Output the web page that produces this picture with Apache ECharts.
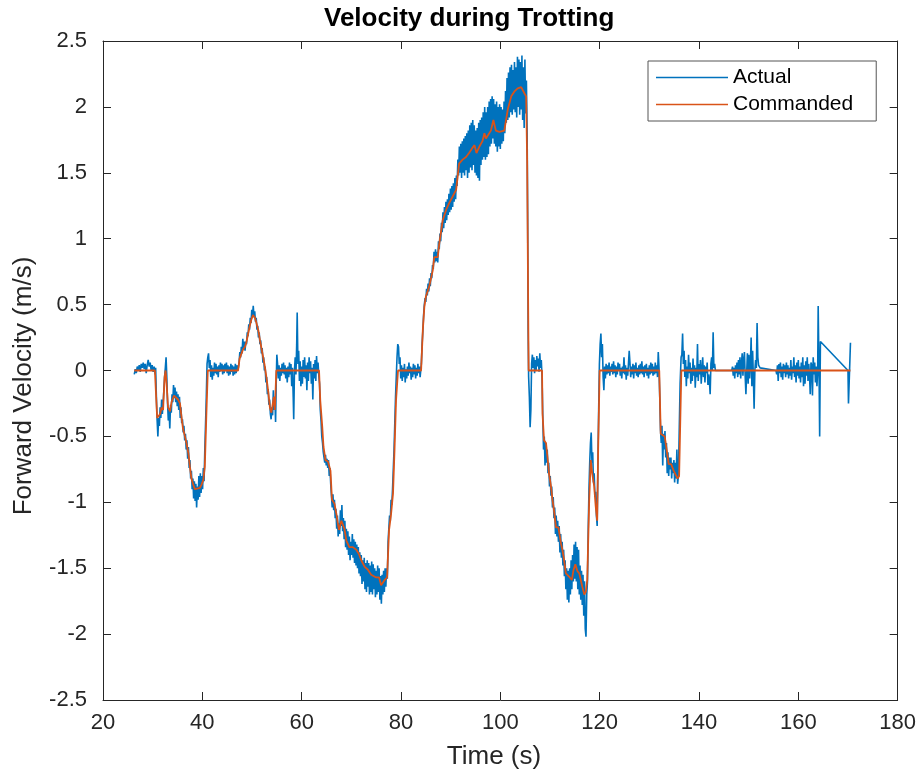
<!DOCTYPE html>
<html>
<head>
<meta charset="utf-8">
<script src="https://cdn.jsdelivr.net/npm/echarts@6/dist/echarts.min.js"></script>
<style>
html,body{margin:0;padding:0;background:#fff;}
#chart{width:919px;height:774px;}
</style>
</head>
<body>
<div id="chart"></div>
<script>
// ---- data ----
var chartTitle = 'Velocity during Trotting';
var xLabel = 'Time (s)';
var yLabel = 'Forward Velocity (m/s)';
var seriesNames = ['Actual', 'Commanded'];
var xTicks = [20, 40, 60, 80, 100, 120, 140, 160, 180];
var yTicks = [-2.5, -2, -1.5, -1, -0.5, 0, 0.5, 1, 1.5, 2, 2.5];

// Commanded velocity [time, value]
var commanded = [
[26.3,0],[30.45,0],[30.9,-0.36],[31.5,-0.33],[31.8,-0.28],[32.1,-0.3],[32.4,-0.05],[32.6,0],[32.8,-0.1],[33.1,-0.28],[33.5,-0.31],[33.8,-0.24],[34.3,-0.19],[34.7,-0.2],[35.1,-0.22],[35.5,-0.25],[35.8,-0.35],[36.1,-0.44],[36.5,-0.5],[36.8,-0.55],[37.2,-0.63],[37.5,-0.73],[37.8,-0.82],[38.2,-0.87],[38.5,-0.9],[38.8,-0.9],[39.5,-0.89],[39.8,-0.87],[40.2,-0.83],[40.5,-0.73],[40.8,-0.35],[41.1,0],
[47.2,0],[47.5,0.09],[48.2,0.16],[48.6,0.18],[48.9,0.22],[49.5,0.33],[49.9,0.39],[50.2,0.42],[50.6,0.4],[50.9,0.36],[51.3,0.3],[51.6,0.23],[52.0,0.15],[52.5,0.05],[52.9,-0.05],[53.3,-0.17],[53.6,-0.28],[53.9,-0.32],[54.2,-0.31],[54.4,-0.2],[54.6,-0.3],[54.8,-0.1],[54.9,0],
[63.5,0],[63.75,-0.23],[64.15,-0.43],[64.4,-0.58],[64.8,-0.68],[65.3,-0.69],[65.8,-0.76],[66.1,-0.98],[66.6,-1.01],[67.0,-1.09],[67.5,-1.21],[68.0,-1.14],[68.6,-1.2],[69.0,-1.29],[69.6,-1.34],[70.3,-1.34],[71.0,-1.36],[71.5,-1.39],[72.0,-1.44],[72.7,-1.49],[73.3,-1.51],[74.0,-1.55],[75.0,-1.57],[75.6,-1.57],[76.0,-1.63],[76.7,-1.59],[77.2,-1.57],[77.6,-1.21],[78.0,-1.09],[78.4,-0.93],[78.7,-0.6],[79.0,-0.23],[79.4,0],
[84.05,0],[84.4,0.31],[84.7,0.48],[85.0,0.56],[85.7,0.64],[86.4,0.76],[86.7,0.86],[87.4,0.86],[87.7,0.96],[88.4,1.14],[89.1,1.22],[89.7,1.27],[90.4,1.32],[91.1,1.37],[91.7,1.57],[92.4,1.6],[93.1,1.62],[93.7,1.65],[94.4,1.69],[94.8,1.71],[95.2,1.65],[95.8,1.7],[96.4,1.74],[96.8,1.8],[97.1,1.76],[97.5,1.77],[98.1,1.82],[98.6,1.9],[99.1,1.82],[99.8,1.81],[100.8,1.82],[101.5,1.98],[102.2,2.08],[102.9,2.12],[103.5,2.14],[104.2,2.15],[104.9,2.1],[105.2,2.08],[105.4,1.6],[105.7,0],
[108.4,0],[108.5,-0.33],[108.8,-0.53],[109.2,-0.55],[109.5,-0.66],[109.8,-0.78],[110.2,-0.88],[110.5,-0.98],[110.8,-1.06],[111.2,-1.19],[111.7,-1.19],[112.2,-1.31],[112.5,-1.36],[112.8,-1.43],[113.2,-1.54],[113.5,-1.55],[114.0,-1.57],[114.4,-1.59],[114.7,-1.52],[115.1,-1.47],[115.5,-1.52],[115.9,-1.54],[116.2,-1.59],[116.5,-1.64],[116.9,-1.7],[117.2,-1.68],[117.5,-1.59],[117.9,-0.98],[118.2,-0.68],[118.5,-0.78],[118.9,-0.88],[119.2,-1.03],[119.5,-1.14],[119.7,-0.6],[120.0,0],
[132.0,0],[132.3,-0.48],[132.6,-0.49],[133.1,-0.5],[133.6,-0.63],[133.9,-0.71],[134.4,-0.71],[134.9,-0.76],[135.3,-0.76],[135.7,-0.82],[136.0,-0.8],[136.45,0],[170.5,0]
];

// Actual (measured) velocity [time, value]
var actual = [
[26.3,-0.03],[26.5,0.01],[26.7,-0.02],[26.9,0.03],[27.1,0.0],[27.3,0.04],[27.5,-0.01],[27.7,0.05],[27.9,0.02],[28.1,0.06],[28.3,0.01],[28.5,0.05],[28.7,-0.02],[28.9,0.04],[29.1,0.08],[29.3,0.03],[29.5,0.06],[29.7,0.0],[29.9,0.04],[30.1,-0.01],[30.3,0.03],[30.5,-0.03],
[30.6,0.02],[30.75,-0.2],[30.9,-0.38],[31.05,-0.5],[31.2,-0.36],[31.35,-0.42],[31.5,-0.28],[31.65,-0.36],[31.8,-0.22],[31.95,-0.33],[32.1,-0.25],[32.25,-0.15],[32.4,-0.05],[32.55,0.02],[32.7,0.1],[32.85,-0.05],[33.0,-0.25],[33.15,-0.38],[33.3,-0.3],[33.45,-0.44],[33.6,-0.26],[33.75,-0.32],[33.9,-0.18],[34.05,-0.24],[34.2,-0.11],[34.35,-0.21],[34.5,-0.13],[34.65,-0.24],[34.8,-0.16],[34.95,-0.27],[35.1,-0.18],[35.25,-0.3],[35.4,-0.2],[35.55,-0.36],[35.7,-0.28],[35.85,-0.4],[36.0,-0.37],[36.15,-0.47],[36.3,-0.42],[36.45,-0.53],[36.6,-0.48],[36.75,-0.6],[36.9,-0.53],[37.05,-0.67],[37.2,-0.58],[37.35,-0.74],[37.5,-0.68],[37.65,-0.82],[37.8,-0.76],[37.95,-0.9],[38.1,-0.82],[38.25,-0.97],[38.4,-0.84],[38.55,-0.99],[38.7,-0.86],[38.85,-1.04],[39.0,-0.88],[39.15,-0.98],[39.3,-0.8],[39.45,-0.96],[39.6,-0.78],[39.75,-0.93],[39.9,-0.8],[40.05,-0.9],[40.2,-0.74],[40.35,-0.84],[40.5,-0.6],[40.65,-0.4],[40.8,-0.2],[40.95,0.05],[41.1,0.1],
[41.25,0.13],[41.4,0.02],[41.55,0.08],[41.7,-0.05],[41.85,0.04],[42.0,-0.07],[42.15,0.02],[42.3,-0.04],[42.45,0.06],[42.6,-0.02],[42.75,0.05],[42.9,-0.03],[43.05,0.03],[43.2,-0.05],[43.35,0.04],[43.5,-0.01],[43.65,0.06],[43.8,0.0],[43.95,0.05],[44.1,-0.03],[44.25,0.04],[44.4,-0.02],[44.55,0.05],[44.7,0.0],[44.85,0.06],[45.0,-0.02],[45.15,0.04],[45.3,-0.04],[45.45,0.03],[45.6,-0.03],[45.75,0.05],[45.9,-0.01],[46.05,0.04],[46.2,-0.04],[46.35,0.03],[46.5,-0.03],[46.65,0.05],[46.8,-0.02],[46.95,0.04],[47.1,0.0],[47.25,0.02],
[47.4,0.06],[47.55,0.14],[47.7,0.1],[47.85,0.18],[48.0,0.13],[48.15,0.24],[48.3,0.16],[48.45,0.22],[48.6,0.15],[48.75,0.22],[48.9,0.2],[49.05,0.29],[49.2,0.26],[49.35,0.35],[49.5,0.31],[49.65,0.4],[49.8,0.36],[49.95,0.46],[50.1,0.4],[50.25,0.49],[50.4,0.41],[50.55,0.45],[50.7,0.37],[50.85,0.4],[51.0,0.31],[51.15,0.34],[51.3,0.25],[51.45,0.29],[51.6,0.2],[51.75,0.23],[51.9,0.13],[52.05,0.17],[52.2,0.06],[52.35,0.1],[52.5,0.0],[52.65,0.03],[52.8,-0.09],[52.95,-0.05],[53.1,-0.18],[53.25,-0.14],[53.4,-0.26],[53.55,-0.22],[53.7,-0.33],[53.85,-0.37],[54.0,-0.28],[54.15,-0.34],[54.3,-0.15],[54.45,-0.3],[54.6,-0.2],[54.75,-0.39],[54.9,-0.05],[55.0,0.12],
[55.15,0.05],[55.3,-0.06],[55.45,0.04],[55.6,-0.08],[55.75,0.02],[55.9,-0.04],[56.05,0.05],[56.2,-0.02],[56.35,0.06],[56.5,-0.03],[56.65,0.04],[56.8,-0.06],[56.95,0.02],[57.1,-0.09],[57.25,0.03],[57.4,-0.05],[57.55,0.06],[57.7,-0.03],[57.85,0.05],[58.0,-0.12],[58.15,0.02],[58.3,-0.2],[58.4,-0.37],[58.55,0.0],[58.7,0.1],[58.85,-0.03],[59.0,0.2],[59.1,0.44],[59.25,0.05],[59.4,0.15],[59.55,-0.08],[59.7,0.07],[59.85,-0.12],[60.0,0.03],[60.15,-0.1],[60.3,0.08],[60.45,-0.05],[60.6,0.1],[60.75,-0.06],[60.9,0.04],[61.05,-0.15],[61.2,0.06],[61.35,-0.08],[61.5,0.1],[61.65,-0.02],[61.8,0.07],[61.95,-0.1],[62.1,0.02],[62.25,-0.22],[62.4,0.05],[62.55,-0.06],[62.7,0.08],[62.85,-0.08],[63.0,0.11],[63.15,-0.02],[63.3,0.06],[63.45,-0.04],
[63.6,-0.1],[63.75,-0.3],[63.9,-0.38],[64.05,-0.5],[64.2,-0.55],[64.35,-0.62],[64.5,-0.66],[64.65,-0.7],[64.8,-0.64],[64.95,-0.72],[65.1,-0.67],[65.25,-0.74],[65.4,-0.68],[65.55,-0.8],[65.7,-0.74],[65.85,-0.86],[66.0,-0.95],[66.15,-1.04],[66.3,-0.94],[66.45,-1.06],[66.6,-0.98],[66.75,-1.12],[66.9,-1.05],[67.05,-1.2],[67.2,-1.1],[67.35,-1.26],[67.5,-1.16],[67.65,-1.24],[67.8,-1.06],[67.95,-1.18],[68.1,-1.02],[68.25,-1.22],[68.4,-1.12],[68.55,-1.28],[68.7,-1.14],[68.85,-1.34],[69.0,-1.2],[69.15,-1.36],[69.3,-1.22],[69.45,-1.4],[69.6,-1.26],[69.75,-1.44],[69.9,-1.3],[70.05,-1.4],[70.2,-1.24],[70.35,-1.42],[70.5,-1.28],[70.65,-1.46],[70.8,-1.3],[70.95,-1.48],[71.1,-1.32],[71.25,-1.5],[71.4,-1.34],[71.55,-1.54],[71.7,-1.38],[71.85,-1.56],[72.0,-1.4],[72.15,-1.62],[72.3,-1.44],[72.45,-1.6],[72.6,-1.42],[72.75,-1.66],[72.9,-1.46],[73.05,-1.68],[73.2,-1.44],[73.35,-1.64],[73.5,-1.46],[73.65,-1.7],[73.8,-1.48],[73.95,-1.68],[74.1,-1.45],[74.25,-1.7],[74.4,-1.47],[74.55,-1.66],[74.7,-1.5],[74.85,-1.72],[75.0,-1.52],[75.15,-1.7],[75.3,-1.48],[75.45,-1.68],[75.6,-1.5],[75.75,-1.74],[75.9,-1.56],[76.05,-1.77],[76.2,-1.55],[76.35,-1.7],[76.5,-1.52],[76.65,-1.68],[76.8,-1.5],[76.95,-1.64],[77.1,-1.5],[77.25,-1.58],[77.4,-1.3],[77.55,-1.2],[77.7,-1.1],[77.85,-1.14],[78.0,-0.98],[78.15,-1.02],[78.3,-0.9],[78.45,-0.75],[78.6,-0.6],[78.75,-0.4],[78.9,-0.2],[79.05,-0.05],[79.2,0.1],[79.35,0.2],
[79.5,0.18],[79.65,0.05],[79.8,0.1],[79.95,-0.06],[80.1,0.04],[80.25,-0.08],[80.4,0.02],[80.55,-0.05],[80.7,0.05],[80.85,-0.09],[81.0,0.01],[81.15,-0.06],[81.3,0.03],[81.45,-0.04],[81.6,0.06],[81.75,-0.02],[81.9,0.03],[82.05,-0.07],[82.2,0.02],[82.35,-0.05],[82.5,0.05],[82.65,-0.03],[82.8,0.04],[82.95,-0.06],[83.1,0.02],[83.25,-0.04],[83.4,0.05],[83.55,-0.02],[83.7,0.03],[83.85,-0.05],[84.0,0.01],
[84.1,0.05],[84.25,0.2],[84.4,0.3],[84.55,0.42],[84.7,0.5],[84.85,0.55],[85.0,0.52],[85.15,0.62],[85.3,0.57],[85.45,0.66],[85.6,0.6],[85.75,0.7],[85.9,0.64],[86.05,0.74],[86.2,0.7],[86.35,0.8],[86.5,0.77],[86.65,0.9],[86.8,0.82],[86.95,0.92],[87.1,0.83],[87.25,0.9],[87.4,0.82],[87.55,0.98],[87.7,0.92],[87.85,1.04],[88.0,0.98],[88.15,1.12],[88.3,1.05],[88.45,1.2],[88.6,1.08],[88.75,1.24],[88.9,1.12],[89.05,1.28],[89.2,1.14],[89.35,1.3],[89.5,1.18],[89.65,1.34],[89.8,1.2],[89.95,1.38],[90.1,1.22],[90.25,1.4],[90.4,1.24],[90.55,1.42],[90.7,1.28],[90.85,1.46],[91.0,1.3],[91.15,1.48],[91.3,1.4],[91.45,1.6],[91.6,1.48],[91.75,1.7],[91.9,1.5],[92.05,1.72],[92.2,1.46],[92.35,1.74],[92.5,1.5],[92.65,1.76],[92.8,1.48],[92.95,1.78],[93.1,1.52],[93.25,1.8],[93.4,1.46],[93.55,1.82],[93.7,1.5],[93.85,1.86],[94.0,1.54],[94.15,1.88],[94.3,1.52],[94.45,1.9],[94.6,1.56],[94.75,1.86],[94.9,1.5],[95.05,1.82],[95.2,1.48],[95.35,1.84],[95.5,1.46],[95.65,1.88],[95.8,1.44],[95.95,1.9],[96.1,1.56],[96.25,1.92],[96.4,1.6],[96.55,1.96],[96.7,1.62],[96.85,2.0],[97.0,1.6],[97.15,1.96],[97.3,1.62],[97.45,2.0],[97.6,1.64],[97.75,2.04],[97.9,1.7],[98.05,2.06],[98.2,1.72],[98.35,2.08],[98.5,1.76],[98.65,2.06],[98.8,1.72],[98.95,2.02],[99.1,1.7],[99.25,2.04],[99.4,1.66],[99.55,2.0],[99.7,1.7],[99.85,2.02],[100.0,1.68],[100.15,2.0],[100.3,1.72],[100.45,1.98],[100.6,1.74],[100.75,2.04],[100.9,1.8],[101.05,2.12],[101.2,1.88],[101.35,2.22],[101.5,1.9],[101.65,2.26],[101.8,1.92],[101.95,2.3],[102.1,1.96],[102.25,2.32],[102.4,1.94],[102.55,2.28],[102.7,1.98],[102.85,2.34],[103.0,1.96],[103.15,2.3],[103.3,1.92],[103.45,2.38],[103.6,2.0],[103.75,2.36],[103.9,1.94],[104.05,2.34],[104.2,1.98],[104.35,2.39],[104.5,1.9],[104.65,2.3],[104.8,1.84],[104.95,2.36],[105.1,1.95],[105.25,2.2],[105.4,1.8],[105.5,1.2],
[105.6,0.3],[105.7,-0.05],[105.85,-0.2],[106.0,-0.43],[106.15,-0.3],[106.3,0.05],[106.45,0.12],[106.6,0.02],[106.75,0.1],[106.9,-0.02],[107.05,0.08],[107.2,0.0],[107.35,0.11],[107.5,0.03],[107.65,0.09],[107.8,-0.01],[107.95,0.13],[108.1,0.02],[108.25,0.08],[108.4,-0.05],
[108.55,-0.35],[108.7,-0.6],[108.85,-0.5],[109.0,-0.72],[109.15,-0.55],[109.3,-0.7],[109.45,-0.6],[109.6,-0.78],[109.75,-0.7],[109.9,-0.88],[110.05,-0.8],[110.2,-0.95],[110.35,-0.88],[110.5,-1.04],[110.65,-0.96],[110.8,-1.12],[110.95,-1.04],[111.1,-1.24],[111.25,-1.1],[111.4,-1.26],[111.55,-1.14],[111.7,-1.3],[111.85,-1.18],[112.0,-1.38],[112.15,-1.24],[112.3,-1.42],[112.45,-1.3],[112.6,-1.48],[112.75,-1.36],[112.9,-1.56],[113.05,-1.44],[113.2,-1.66],[113.35,-1.5],[113.5,-1.74],[113.65,-1.52],[113.8,-1.76],[113.95,-1.5],[114.1,-1.7],[114.25,-1.44],[114.4,-1.66],[114.55,-1.4],[114.7,-1.6],[114.85,-1.32],[115.0,-1.58],[115.15,-1.3],[115.3,-1.6],[115.45,-1.34],[115.6,-1.66],[115.75,-1.36],[115.9,-1.7],[116.05,-1.48],[116.2,-1.74],[116.35,-1.52],[116.5,-1.78],[116.65,-1.55],[116.8,-1.86],[116.95,-1.6],[117.1,-1.96],[117.25,-2.02],[117.4,-1.7],[117.55,-1.6],[117.7,-1.2],[117.85,-0.9],[118.0,-0.7],[118.15,-0.55],[118.3,-0.47],[118.45,-0.7],[118.6,-0.62],[118.75,-0.85],[118.9,-0.78],[119.05,-0.96],[119.2,-0.92],[119.35,-1.1],[119.5,-1.18],[119.65,-0.7],[119.8,-0.3],[119.95,0.05],
[120.1,0.2],[120.25,0.28],[120.4,0.1],[120.55,0.2],[120.7,-0.05],[120.85,-0.15],[121.0,0.03],[121.15,-0.06],[121.3,0.05],[121.45,-0.03],[121.6,0.04],[121.75,-0.02],[121.9,0.06],[122.05,-0.04],[122.2,0.03],[122.35,-0.01],[122.5,0.05],[122.65,-0.03],[122.8,0.07],[122.95,-0.02],[123.1,0.04],[123.25,-0.05],[123.4,0.03],[123.55,-0.03],[123.7,0.06],[123.85,0.0],[124.0,0.05],[124.15,-0.04],[124.3,0.02],[124.45,-0.06],[124.6,0.03],[124.75,-0.02],[124.9,0.1],[125.05,-0.03],[125.2,0.04],[125.35,-0.07],[125.5,0.02],[125.65,-0.04],[125.8,0.05],[125.95,0.15],[126.1,0.06],[126.25,-0.05],[126.4,0.03],[126.55,-0.03],[126.7,0.05],[126.85,-0.06],[127.0,0.04],[127.15,-0.02],[127.3,0.06],[127.45,-0.04],[127.6,0.02],[127.75,-0.05],[127.9,0.04],[128.05,-0.03],[128.2,0.05],[128.35,-0.02],[128.5,0.07],[128.65,-0.03],[128.8,0.03],[128.95,-0.05],[129.1,0.04],[129.25,-0.02],[129.4,0.05],[129.55,-0.04],[129.7,0.02],[129.85,-0.06],[130.0,0.04],[130.15,-0.03],[130.3,0.06],[130.45,-0.02],[130.6,0.05],[130.75,-0.04],[130.9,0.03],[131.05,-0.03],[131.2,0.06],[131.35,-0.02],[131.5,0.04],[131.65,-0.05],[131.8,0.14],[131.95,0.02],
[132.1,-0.2],[132.25,-0.45],[132.4,-0.55],[132.55,-0.42],[132.7,-0.72],[132.85,-0.48],[133.0,-0.6],[133.15,-0.46],[133.3,-0.66],[133.45,-0.55],[133.6,-0.78],[133.75,-0.62],[133.9,-0.8],[134.05,-0.66],[134.2,-0.75],[134.35,-0.66],[134.5,-0.82],[134.65,-0.7],[134.8,-0.78],[134.95,-0.68],[135.1,-0.85],[135.25,-0.7],[135.4,-0.82],[135.55,-0.6],[135.7,-0.86],[135.85,-0.8],[136.0,-0.5],[136.2,-0.1],[136.4,0.1],
[136.55,0.12],[136.7,0.28],[136.85,0.05],[137.0,0.15],[137.15,-0.05],[137.3,0.08],[137.45,-0.12],[137.6,0.03],[137.75,-0.06],[137.9,0.12],[138.05,-0.02],[138.2,0.06],[138.35,-0.1],[138.5,0.02],[138.65,-0.08],[138.8,0.09],[138.95,-0.04],[139.1,0.04],[139.25,-0.13],[139.4,0.02],[139.55,-0.05],[139.7,0.2],[139.85,-0.08],[140.0,0.05],[140.15,-0.03],[140.3,0.08],[140.45,-0.1],[140.6,0.0],[140.75,0.1],[140.9,-0.05],[141.05,0.04],[141.2,-0.09],[141.35,0.03],[141.5,-0.02],[141.65,0.06],[141.8,-0.11],[141.95,-0.03],[142.1,-0.08],[142.25,-0.18],[142.4,0.05],[142.55,0.1],[142.7,0.0],[142.85,0.29],[143.0,0.02],[143.15,0.05],[143.3,0.0],
[146.6,0.0],[146.75,0.03],[146.9,-0.04],[147.05,0.02],[147.2,-0.06],[147.35,0.04],[147.5,-0.02],[147.65,0.06],[147.8,-0.05],[147.95,0.08],[148.1,-0.03],[148.25,0.1],[148.4,-0.06],[148.55,0.05],[148.7,0.13],[148.85,-0.04],[149.0,0.08],[149.15,0.14],[149.3,-0.04],[149.45,-0.18],[149.6,-0.02],[149.75,0.13],[149.9,-0.1],[150.05,0.12],[150.2,-0.06],[150.35,0.05],[150.5,0.25],[150.65,-0.12],[150.8,0.15],[150.95,-0.05],[151.1,-0.29],[151.25,0.0],[151.4,0.08],[151.55,0.02],[151.7,0.36],[151.85,0.1],[152.0,0.04],[152.3,0.02],
[155.5,0.0],[155.65,-0.03],[155.8,0.04],[155.95,-0.08],[156.1,0.05],[156.25,-0.02],[156.4,0.06],[156.55,-0.05],[156.7,0.03],[156.85,-0.07],[157.0,0.05],[157.15,-0.02],[157.3,0.04],[157.45,-0.05],[157.6,0.06],[157.75,-0.03],[157.9,0.04],[158.05,-0.06],[158.2,0.02],[158.35,-0.04],[158.5,0.08],[158.65,-0.07],[158.8,0.03],[158.95,-0.02],[159.1,0.1],[159.25,-0.05],[159.4,0.04],[159.55,-0.09],[159.7,0.06],[159.85,-0.04],[160.0,0.08],[160.15,-0.06],[160.3,0.03],[160.45,-0.09],[160.6,0.06],[160.75,-0.05],[160.9,0.1],[161.05,-0.12],[161.2,0.04],[161.35,-0.1],[161.5,0.07],[161.65,-0.04],[161.8,0.1],[161.95,-0.08],[162.1,0.05],[162.25,-0.03],[162.4,-0.18],[162.55,0.06],[162.7,0.04],[162.85,-0.19],[163.0,0.1],[163.15,-0.03],[163.3,0.06],[163.45,-0.09],[163.6,0.03],[163.75,-0.12],[163.9,0.0],[164.0,0.49],[164.2,-0.1],[164.3,-0.5],[164.45,0.22],
[170.0,0.0],[170.1,-0.25],[170.5,0.21]
];

var colorActual = '#0072BD';
var colorCommanded = '#D95319';
var axisColor = '#262626';
var fontFam = '"Liberation Sans", Arial, Helvetica, sans-serif';

var chart = echarts.init(document.getElementById('chart'), null, {renderer: 'canvas'});

function baseAxis(extra) {
  var o = {
    type: 'value',
    axisLine: {show: true, onZero: false, lineStyle: {color: axisColor, width: 1}},
    axisTick: {show: true, inside: true, length: 8, lineStyle: {color: axisColor, width: 1}},
    splitLine: {show: false},
    axisLabel: {show: false}
  };
  for (var k in extra) o[k] = extra[k];
  return o;
}

var legendIcon = 'path://M0,0L72,0L72,1.3L0,1.3Z';

var option = {
  animation: false,
  backgroundColor: '#ffffff',
  title: {
    text: chartTitle,
    left: 324,
    top: 6,
    padding: 0,
    textStyle: {fontFamily: fontFam, fontSize: 26, fontWeight: 'bold', color: '#000000'}
  },
  grid: {left: 103, right: 20, top: 41, bottom: 74, containLabel: false},
  legend: {
    orient: 'vertical',
    left: 648,
    top: 61,
    padding: [6, 23, 6, 8],
    itemWidth: 72,
    itemHeight: 14,
    itemGap: 6,
    backgroundColor: '#ffffff',
    borderColor: '#555555',
    borderWidth: 1,
    borderRadius: 0,
    textStyle: {fontFamily: fontFam, fontSize: 21, color: '#000000'},
    data: [{name: seriesNames[0], icon: legendIcon}, {name: seriesNames[1], icon: legendIcon}]
  },
  xAxis: [
    baseAxis({
      position: 'bottom', min: xTicks[0], max: xTicks[xTicks.length - 1], interval: 20,
      axisLabel: {show: true, fontFamily: fontFam, fontSize: 22, color: axisColor, margin: 12}
    }),
    baseAxis({position: 'top', min: xTicks[0], max: xTicks[xTicks.length - 1], interval: 20})
  ],
  yAxis: [
    baseAxis({
      position: 'left', min: yTicks[0], max: yTicks[yTicks.length - 1], interval: 0.5,
      axisLabel: {show: true, fontFamily: fontFam, fontSize: 22, color: axisColor, margin: 16}
    }),
    baseAxis({position: 'right', min: yTicks[0], max: yTicks[yTicks.length - 1], interval: 0.5})
  ],
  graphic: [
    {type: 'text', x: 494, y: 757, silent: true,
     style: {text: xLabel, font: '26px ' + fontFam, fill: axisColor, textAlign: 'center', textVerticalAlign: 'middle', align: 'center', verticalAlign: 'middle'}},
    {type: 'text', x: 24, y: 386, rotation: Math.PI / 2, silent: true,
     style: {text: yLabel, font: '26px ' + fontFam, fill: axisColor, textAlign: 'center', textVerticalAlign: 'middle', align: 'center', verticalAlign: 'middle'}}
  ],
  series: [
    {name: seriesNames[0], type: 'line', data: actual, showSymbol: false, symbol: 'none',
     xAxisIndex: 0, yAxisIndex: 0,
     lineStyle: {color: colorActual, width: 1.6}, itemStyle: {color: colorActual}, z: 2},
    {name: seriesNames[1], type: 'line', data: commanded, showSymbol: false, symbol: 'none',
     xAxisIndex: 0, yAxisIndex: 0,
     lineStyle: {color: colorCommanded, width: 1.8}, itemStyle: {color: colorCommanded}, z: 3}
  ]
};
chart.setOption(option);
</script>
</body>
</html>
